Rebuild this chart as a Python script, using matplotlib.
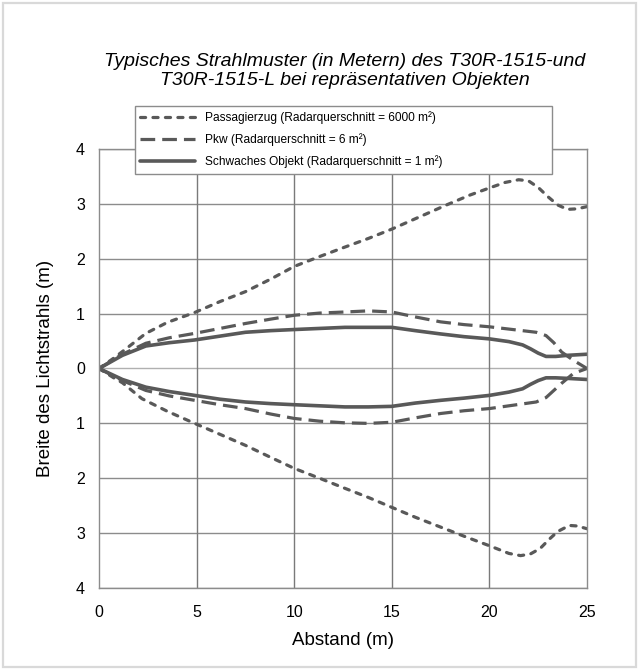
import matplotlib
matplotlib.use("Agg")
import matplotlib.pyplot as plt
from matplotlib.patches import Rectangle
from matplotlib.ticker import FuncFormatter

plt.rcParams["font.family"] = ["Liberation Sans", "DejaVu Sans"]

# Beam envelope data: distance (m) and half-width (m), upper and lower edge
zug_x_up = [0, 0.8, 1.35, 2.4, 3.5, 4.9, 6.2, 7.5, 8.8, 10, 11.3, 12.5, 13.8, 15, 16.4,
            17.8, 19, 20, 20.8, 21.5, 22.0, 22.5, 23.0, 23.5, 24.0, 24.5, 25]
zug_y_up = [0, 0.2, 0.35, 0.64, 0.84, 1.02, 1.22, 1.40, 1.63, 1.86, 2.04, 2.2, 2.37, 2.54, 2.76,
            2.98, 3.16, 3.29, 3.39, 3.44, 3.42, 3.3, 3.13, 2.98, 2.9, 2.91, 2.95]
zug_x_lo = [0, 0.8, 1.2, 2.2, 3.5, 4.9, 6.2, 7.5, 8.8, 10, 11.3, 12.5, 13.8, 15, 16.2,
            17.5, 18.8, 20, 21, 21.6, 22.1, 22.6, 23.1, 23.5, 24.1, 24.5, 25]
zug_y_lo = [0, -0.18, -0.26, -0.55, -0.78, -1.0, -1.2, -1.40, -1.62, -1.82, -2.0, -2.17, -2.35,
            -2.53, -2.71, -2.89, -3.07, -3.23, -3.37, -3.41, -3.38, -3.28, -3.1, -2.97, -2.86,
            -2.87, -2.92]

pkw_x = [0, 1.2, 2.4, 3.6, 4.9, 6.2, 7.5, 8.8, 10, 11.3, 12.6, 13.8, 15, 16.2, 17.5, 18.7,
         20, 21.2, 22.4, 22.9, 23.3, 23.7, 24.3, 25]
pkw_y_up = [0, 0.26, 0.46, 0.56, 0.64, 0.73, 0.82, 0.9, 0.97, 1.01, 1.03, 1.05, 1.03, 0.94,
            0.85, 0.8, 0.76, 0.71, 0.66, 0.6, 0.47, 0.3, 0.15, 0]
pkw_y_lo = [0, -0.22, -0.40, -0.5, -0.58, -0.66, -0.73, -0.83, -0.91, -0.96, -0.99, -1.0,
            -0.98, -0.9, -0.82, -0.77, -0.73, -0.67, -0.61, -0.53, -0.4, -0.27, -0.09, 0]

obj_x = [0, 1.2, 2.4, 3.6, 4.9, 6.2, 7.5, 8.8, 10, 11.3, 12.6, 13.8, 15, 16.2, 17.5, 18.7,
         20, 21, 21.7, 22.1, 22.5, 22.9, 23.4, 24, 25]
obj_y_up = [0, 0.24, 0.41, 0.47, 0.52, 0.59, 0.66, 0.69, 0.71, 0.73, 0.75, 0.75, 0.75, 0.69,
            0.63, 0.58, 0.54, 0.49, 0.43, 0.36, 0.28, 0.22, 0.22, 0.24, 0.26]
obj_y_lo = [0, -0.2, -0.34, -0.42, -0.49, -0.56, -0.61, -0.64, -0.66, -0.68, -0.7, -0.7,
            -0.69, -0.63, -0.58, -0.54, -0.49, -0.43, -0.37, -0.29, -0.22, -0.17, -0.17,
            -0.18, -0.2]

labels = ["Passagierzug (Radarquerschnitt = 6000 m²)",
          "Pkw (Radarquerschnitt = 6 m²)",
          "Schwaches Objekt (Radarquerschnitt = 1 m²)"]
x_ticks = [0, 5, 10, 15, 20, 25]
y_ticks = [-4, -3, -2, -1, 0, 1, 2, 3, 4]

line_color = "#595959"

fig = plt.figure(figsize=(6.39, 6.70), dpi=100)
ax = fig.add_axes([99 / 639, 1 - 588 / 670, (587 - 99) / 639, (588 - 149) / 670])

# outer light frame around the whole figure
fig.patches.append(Rectangle((0.004, 0.004), 0.992, 0.992, transform=fig.transFigure,
                             fill=False, edgecolor="#d9d9d9", linewidth=1.6))

zug_style = dict(color=line_color, lw=2.3, linestyle=(0, (1.6, 2.3)), dash_capstyle="round")
pkw_style = dict(color=line_color, lw=2.3, linestyle=(0, (4.6, 2.2)), dash_capstyle="butt")
obj_style = dict(color=line_color, lw=2.6, solid_capstyle="round", solid_joinstyle="round")

ax.plot(zug_x_up, zug_y_up, label=labels[0], **zug_style)
ax.plot(zug_x_lo, zug_y_lo, **zug_style)
ax.plot(pkw_x, pkw_y_up, label=labels[1], **pkw_style)
ax.plot(pkw_x, pkw_y_lo, **pkw_style)
ax.plot(obj_x, obj_y_up, label=labels[2], **obj_style)
ax.plot(obj_x, obj_y_lo, **obj_style)

ax.set_xlim(0, 25)
ax.set_ylim(-4, 4)
ax.set_xticks(x_ticks)
ax.set_yticks(y_ticks)
ax.yaxis.set_major_formatter(FuncFormatter(lambda v, p: f"{abs(v):.0f}"))
ax.tick_params(length=0, labelsize=11.5, colors="#000000", pad=10)
ax.tick_params(axis="x", pad=12)

# grid
for yv in y_ticks:
    ax.axhline(yv, color="#b0b0b0" if yv == 0 else "#8c8c8c", lw=1.0, zorder=0)
for xv in x_ticks[1:-1]:
    ax.axvline(xv, color="#7a7a7a", lw=1.0, zorder=0)
for side in ["left", "right", "top", "bottom"]:
    ax.spines[side].set_color("#8c8c8c")
    ax.spines[side].set_linewidth(1.0)

ax.set_xlabel("Abstand (m)", fontsize=13.5, labelpad=9)
ax.set_ylabel("Breite des Lichtstrahls (m)", fontsize=13.5, labelpad=16)

fig.text(345 / 639, 1 - 71 / 670,
         "Typisches Strahlmuster (in Metern) des T30R-1515-und\nT30R-1515-L bei repräsentativen Objekten",
         ha="center", va="center", fontsize=14, style="italic", linespacing=1.1)

leg = ax.legend(loc="upper left", bbox_to_anchor=(135 / 639, 0.0, (552 - 135) / 639, 1 - 106 / 670),
                bbox_transform=fig.transFigure, mode="expand", fontsize=8.6,
                handlelength=4.6, handletextpad=0.8, labelspacing=0.78, borderpad=0.45,
                borderaxespad=0, frameon=True, fancybox=False)
leg.get_frame().set_edgecolor("#8c8c8c")
leg.get_frame().set_linewidth(1.0)
leg.get_frame().set_alpha(1.0)

fig.savefig("out.png", dpi=100)
